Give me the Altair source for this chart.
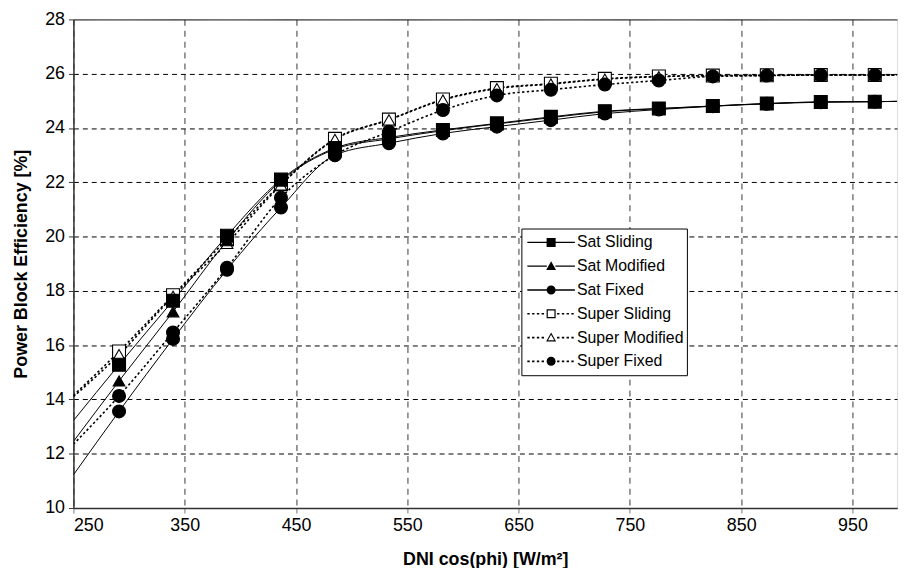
import altair as alt
import pandas as pd

# ---- data ----
dni = [291, 339.5, 388, 436.5, 485, 533.5, 582, 630.5, 679, 727.5, 776, 824.5, 873, 921.5, 970]
series_names = ["Sat Sliding", "Sat Modified", "Sat Fixed", "Super Sliding", "Super Modified", "Super Fixed"]
sat_sliding = [15.28, 17.64, 20.03, 22.10, 23.26, 23.65, 23.93, 24.17, 24.41, 24.62, 24.72, 24.81, 24.90, 24.96, 24.97]
sat_modified = [14.68, 17.23, 19.85, 22.05, 23.22, 23.60, 23.90, 24.15, 24.38, 24.60, 24.71, 24.81, 24.90, 24.96, 24.97]
sat_fixed = [13.56, 16.23, 18.78, 21.07, 23.00, 23.44, 23.80, 24.05, 24.29, 24.53, 24.68, 24.80, 24.89, 24.95, 24.97]
super_sliding = [15.77, 17.84, 19.90, 21.93, 23.60, 24.31, 25.05, 25.47, 25.63, 25.81, 25.90, 25.93, 25.94, 25.95, 25.95]
super_modified = [15.65, 17.80, 19.75, 21.90, 23.58, 24.30, 25.03, 25.45, 25.62, 25.80, 25.89, 25.93, 25.94, 25.95, 25.95]
super_fixed = [14.13, 16.47, 18.85, 21.43, 23.00, 23.86, 24.66, 25.20, 25.41, 25.60, 25.75, 25.90, 25.93, 25.95, 25.95]
# the fitted curves run past the markers to both plot edges
curve_start_x = 250
curve_end_x = 990
curve_start = [13.22, 12.45, 11.22, 14.15, 14.10, 12.35]
curve_end = [24.98, 24.98, 24.98, 25.96, 25.96, 25.96]
x_ticks = [250, 350, 450, 550, 650, 750, 850, 950]
y_ticks = [10, 12, 14, 16, 18, 20, 22, 24, 26, 28]

values = [sat_sliding, sat_modified, sat_fixed, super_sliding, super_modified, super_fixed]
point_rows, line_rows = [], []
for i, (name, vals) in enumerate(zip(series_names, values)):
    kind = name.split()[0]
    for x, v in zip(dni, vals):
        point_rows.append({"series": name, "dni": x, "eff": v})
    xs = [curve_start_x] + dni + [curve_end_x]
    vs = [curve_start[i]] + vals + [curve_end[i]]
    for x, v in zip(xs, vs):
        line_rows.append({"series": name, "kind": kind, "dni": x, "eff": v})
pts = pd.DataFrame(point_rows)
lns = pd.DataFrame(line_rows)

# ---- styling ----
FONT = "Liberation Sans"
marker_shape = {"Sat Sliding": "square", "Sat Modified": "triangle-up", "Sat Fixed": "circle",
                "Super Sliding": "square", "Super Modified": "triangle-up", "Super Fixed": "circle"}
marker_fill = {"Sat Sliding": "black", "Sat Modified": "black", "Sat Fixed": "black",
               "Super Sliding": "white", "Super Modified": "white", "Super Fixed": "black"}
draw_order = ["Super Sliding", "Super Modified", "Super Fixed", "Sat Fixed", "Sat Modified", "Sat Sliding"]

# legend symbols: line + marker, built only from filled outlines (units: -1..1)
h = 0.19      # marker half size
lt = 0.028    # half line thickness
ring = 0.05   # outline thickness of open markers


def rect(x0, x1, t=lt):
    return f"M{x0:.3f},{-t:.3f}H{x1:.3f}V{t:.3f}H{x0:.3f}Z"


def line_part(dotted):
    if not dotted:
        return rect(-1, -h + 0.01) + rect(h - 0.01, 1)
    p, step, on = "", 0.2, 0.1
    a = -1.0
    while a < -h - 0.02:
        p += rect(a, min(a + on, -h - 0.02), 0.035)
        a += step
    a = h + 0.06
    while a < 0.99:
        p += rect(a, min(a + on, 1), 0.035)
        a += step
    return p


def square(open_):
    p = f"M{-h},{-h}H{h}V{h}H{-h}Z"
    if open_:
        k = h - ring
        p += f"M{-k:.3f},{-k:.3f}V{k:.3f}H{k:.3f}V{-k:.3f}Z"
    return p


def triangle(open_):
    top, bot, half = -h * 1.1, h * 0.85, h * 1.1
    p = f"M0,{top:.3f}L{half:.3f},{bot:.3f}H{-half:.3f}Z"
    if open_:
        cy = (top + 2 * bot) / 3
        k = 0.62
        t2 = cy + (top - cy) * k
        b2 = cy + (bot - cy) * k
        hf = half * k
        p += f"M0,{t2:.3f}L{-hf:.3f},{b2:.3f}H{hf:.3f}Z"
    return p


def circle():
    return f"M{-h},0A{h},{h} 0 1,1 {h},0A{h},{h} 0 1,1 {-h},0Z"


legend_paths = [line_part(False) + square(False), line_part(False) + triangle(False),
                line_part(False) + circle(), line_part(True) + square(True),
                line_part(True) + triangle(True), line_part(True) + circle()]

x_scale = alt.Scale(domain=[250, 990], nice=False, zero=False)
y_scale = alt.Scale(domain=[10, 28], nice=False, zero=False)

x_axis = alt.Axis(values=x_ticks, title="DNI cos(phi) [W/m²]", grid=True,
                  gridColor="#7a7a7a", gridDash=[6, 5], gridWidth=1.5,
                  domainColor="#333333", domainWidth=1.5, tickColor="#777777",
                  tickSize=5, labelFontSize=18, labelFont=FONT, labelColor="black",
                  labelPadding=4, titleFont=FONT, titleFontSize=18, titleFontWeight="bold",
                  titleColor="black", titlePadding=16)
y_axis = alt.Axis(values=y_ticks, title="Power Block Efficiency [%]", grid=True,
                  gridColor="black",
                  gridDash={"condition": {"test": "datum.value >= 28", "value": [1, 0]}, "value": [5, 4]},
                  gridWidth=1, domainColor="#333333", domainWidth=1.5, tickColor="#333333",
                  tickSize=5, labelFontSize=18, labelFont=FONT, labelColor="black",
                  labelPadding=4, titleFont=FONT, titleFontSize=18, titleFontWeight="bold",
                  titleColor="black", titlePadding=14)

sat_lines = alt.Chart(lns).transform_filter(alt.datum.kind == "Sat").mark_line(
    color="black", strokeWidth=1, interpolate="monotone", clip=True
).encode(
    x=alt.X("dni:Q", scale=x_scale, axis=x_axis),
    y=alt.Y("eff:Q", scale=y_scale, axis=y_axis),
    detail="series:N",
)
super_lines = alt.Chart(lns).transform_filter(alt.datum.kind == "Super").mark_line(
    color="black", strokeWidth=1.6, strokeDash=[2.4, 2.4], interpolate="monotone", clip=True
).encode(
    x=alt.X("dni:Q", scale=x_scale),
    y=alt.Y("eff:Q", scale=y_scale),
    detail="series:N",
)

point_layers = []
for name in draw_order:
    point_layers.append(
        alt.Chart(pts).transform_filter(alt.datum.series == name).mark_point(
            shape=marker_shape[name], filled=True, fill=marker_fill[name],
            size=170 if marker_shape[name] != "triangle-up" else 140,
            stroke="black", strokeWidth=1.1, opacity=1,
        ).encode(
            x=alt.X("dni:Q", scale=x_scale),
            y=alt.Y("eff:Q", scale=y_scale),
        )
    )

legend = alt.Legend(title=None, orient="none", legendX=452, legendY=211,
                    fillColor="white", strokeColor="black", padding=3,
                    labelFont=FONT, labelFontSize=16, labelColor="black", labelOffset=2,
                    symbolSize=2304, symbolFillColor="black", symbolStrokeColor="black",
                    symbolStrokeWidth=0, symbolOpacity=1, clipHeight=22, rowPadding=2,
                    symbolOffset=3)

legend_layer = alt.Chart(pts).mark_point(
    filled=True, color="black", size=2304, opacity=0
).encode(
    x=alt.X("dni:Q", scale=x_scale),
    y=alt.Y("eff:Q", scale=y_scale),
    shape=alt.Shape("series:N", scale=alt.Scale(domain=series_names, range=legend_paths),
                    legend=legend, sort=series_names),
)

chart = alt.layer(sat_lines, super_lines, *point_layers, legend_layer).properties(
    width=831, height=493,
    autosize=alt.AutoSizeParams(type="none"),
    padding={"left": 66, "top": 9, "right": 2, "bottom": 58},
).configure_view(stroke=None).configure(background="white")

chart.save("out.html", embed_options={"renderer": "svg", "actions": False})
